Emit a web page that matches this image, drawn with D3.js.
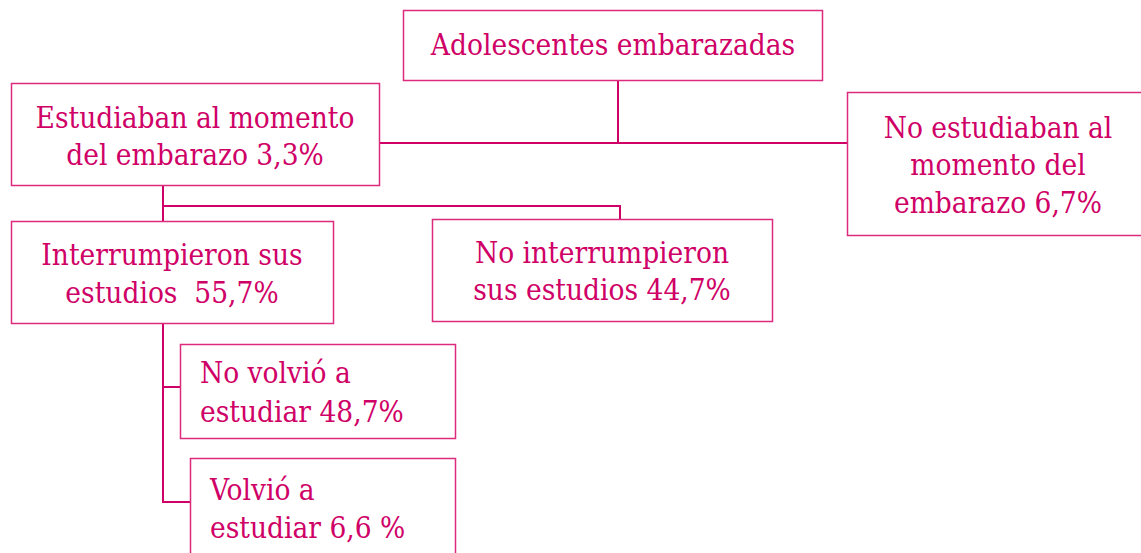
<!DOCTYPE html>
<html><head><meta charset="utf-8">
<script src="https://cdn.jsdelivr.net/npm/d3@7"></script>
<style>html,body{margin:0;padding:0;background:#fff;}svg{display:block;}</style>
</head><body>
<script>
// Data
const nodeIds = ["root","est","noest","interr","nointerr","novolvio","volvio"];
const nodeLines = [
  ["Adolescentes embarazadas"],
  ["Estudiaban al momento","del embarazo 3,3%"],
  ["No estudiaban al","momento del","embarazo 6,7%"],
  ["Interrumpieron sus","estudios  55,7%"],
  ["No interrumpieron","sus estudios 44,7%"],
  ["No volvió a","estudiar 48,7%"],
  ["Volvió a","estudiar 6,6 %"]
];
const parents = [null,"root","root","est","est","interr","interr"];

// Layout (pixel boxes)
const layout = {
  root:     {x:403, y:10,  w:419, h:70,  align:"middle", tx:613, base:[55]},
  est:      {x:11,  y:83,  w:368, h:102, align:"middle", tx:195, base:[128,165]},
  noest:    {x:847, y:92,  w:300, h:143, align:"middle", tx:998, base:[138,175,213]},
  interr:   {x:11,  y:221, w:322, h:102, align:"middle", tx:172, base:[265,303]},
  nointerr: {x:432, y:219, w:340, h:102, align:"middle", tx:602, base:[263,300]},
  novolvio: {x:180, y:344, w:275, h:94,  align:"start",  tx:200, base:[383,422]},
  volvio:   {x:190, y:458, w:265, h:110, align:"start",  tx:210, base:[500,538]}
};
const color = "#cf0066";
const stroke = "#dc2a7d";

const svg = d3.select("body").append("svg").attr("width",1141).attr("height",553);

// connectors
const conn = svg.append("g").attr("fill","none").attr("stroke",color).attr("stroke-width",2);
const r = layout.root, e = layout.est, ne = layout.noest;
const yMid = 143;
conn.append("path").attr("d", d3.line()([[618, r.y+r.h],[618,yMid]]));
conn.append("path").attr("d", d3.line()([[e.x+e.w,yMid],[ne.x,yMid]]));
const ni = layout.nointerr, it = layout.interr;
conn.append("path").attr("d", d3.line()([[163,e.y+e.h],[163,it.y]]));
conn.append("path").attr("d", d3.line()([[163,206],[620,206],[620,ni.y]]));
const nv = layout.novolvio, v = layout.volvio;
conn.append("path").attr("d", d3.line()([[163,it.y+it.h],[163,502],[v.x,502]]));
conn.append("path").attr("d", d3.line()([[163,387],[nv.x,387]]));

// nodes
const nodes = nodeIds.map((id,i)=>({id, lines:nodeLines[i], parent:parents[i], ...layout[id]}));
const g = svg.selectAll("g.node").data(nodes).join("g").attr("class","node");
g.append("rect")
  .attr("x",d=>d.x+0.5).attr("y",d=>d.y+0.5).attr("width",d=>d.w).attr("height",d=>d.h)
  .attr("fill","#fff").attr("stroke",stroke).attr("stroke-width",1.5);
g.each(function(d){
  const sel = d3.select(this);
  d.lines.forEach((ln,i)=>{
    sel.append("text").attr("x",d.tx).attr("y",d.base[i])
      .attr("text-anchor",d.align)
      .attr("fill",color)
      .style("font-family","'DejaVu Serif Condensed', 'DejaVu Serif', serif")
      .style("font-stretch","condensed")
      .style("font-size","29.5px")
      .style("white-space","pre")
      .text(ln);
  });
});
</script>
</body></html>
